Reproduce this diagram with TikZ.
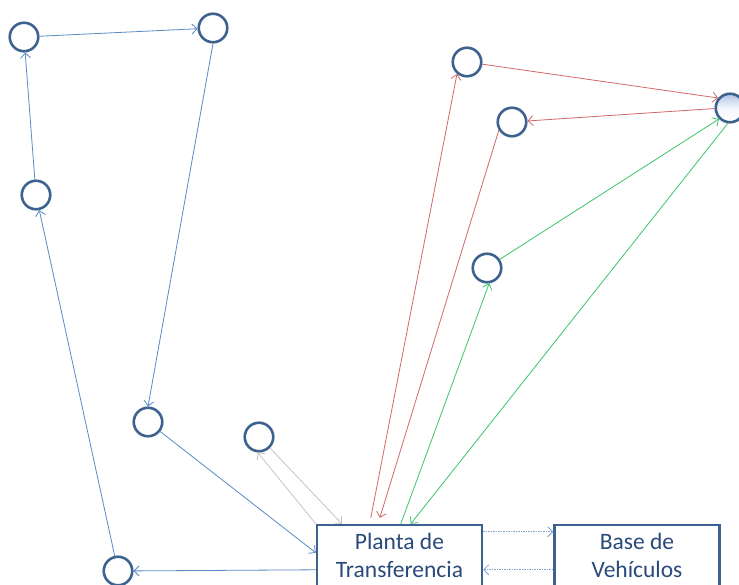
\documentclass[tikz,border=0pt]{standalone}
\usepackage{fontspec}
\setmainfont{Carlito}
\usetikzlibrary{arrows.meta,calc}
\definecolor{nodeblue}{HTML}{3E6290}
\definecolor{lineblue}{HTML}{5A8AC6}
\definecolor{dotblue}{HTML}{7FA3D6}
\definecolor{linered}{HTML}{D06868}
\definecolor{linegreen}{HTML}{3CC46A}
\definecolor{linegray}{HTML}{C4C4C4}
\definecolor{txtblue}{HTML}{2A4A7A}
\definecolor{shadeblue}{HTML}{AFC3E6}
\begin{document}
\begin{tikzpicture}[x=1pt,y=-1pt,
  vtx/.style={circle,draw=nodeblue,line width=2.6pt,minimum size=28.5pt,inner sep=0pt},
  bigvtx/.style={vtx,top color=shadeblue,bottom color=white,middle color=white!85!shadeblue},
  boxnode/.style={rectangle,draw=nodeblue,line width=2.4pt,minimum width=165pt,minimum height=70pt,inner sep=0pt},
  txt/.style={font=\fontsize{23.5}{28}\selectfont,text=txtblue,inner sep=0pt,anchor=base},
  arr/.style={line width=0.8pt,-{Straight Barb[length=5pt,width=10pt]}},
  barr/.style={arr,draw=lineblue},
  rarr/.style={arr,draw=linered},
  garr/.style={arr,draw=linegreen},
  grarr/.style={arr,draw=linegray},
  darr/.style={arr,draw=dotblue,dash pattern=on 1.5pt off 1pt}
]
\useasboundingbox (0,0) rectangle (739,585);
\fill[white] (0,0) rectangle (739,585);

% vertices
\node[vtx] (c1) at (24,37) {};
\node[vtx] (c2) at (213,28) {};
\node[vtx] (c3) at (36,195) {};
\node[vtx] (c4) at (148,422) {};
\node[vtx] (c5) at (259,437) {};
\node[vtx] (c6) at (118,571) {};
\node[vtx] (r1) at (467,62) {};
\node[vtx] (r2) at (512,122) {};
\node[vtx] (g1) at (487,268) {};
\node[bigvtx] (big) at (730,108) {};

% boxes
\node[boxnode] (pt) at (399.5,560) {};
\node[boxnode] (bv) at (637,560) {};
\node[txt] (pt1) at (399.5,549) {Planta de};
\node[txt] (pt2) at (399.5,577) {Transferencia};
\node[txt] (bv1) at (637,549) {Base de};
\node[txt] (bv2) at (637,577) {Vehículos};

% blue route
\draw[barr] (c1) -- (c2);
\draw[barr] (c2.south) -- (c4.north);
\coordinate (ptw1) at ($(pt.north west)+(0,29)$);
\coordinate (ptw2) at ($(pt.north west)+(0,46)$);
\draw[barr] (c4) -- (ptw1);
\draw[barr] (ptw2) -- (c6);
\draw[barr] (c6) -- (c3);
\draw[barr] (c3) -- (c1);

% gray
\coordinate (gy2) at ($(pt.north west)+(26,0)$);
\draw[grarr] (pt.north west) -- (c5.265);
\draw[grarr] (c5.315) -- (gy2);

% red
\coordinate (rd1) at ($(pt.north west)+(55,-6)$);
\coordinate (rd2) at ($(pt.north west)+(64,-6)$);
\draw[rarr] (rd1) -- (r1.230);
\draw[rarr] (r1) -- (big.140);
\draw[rarr] (big.182) -- (r2);
\draw[rarr] (r2.212) -- (rd2);

% green
\coordinate (gn1) at ($(pt.north west)+(85,0)$);
\coordinate (gn2) at ($(pt.north west)+(95,0)$);
\draw[garr] (gn1) -- (g1.278);
\draw[garr] (g1.34) -- (big.225);
\draw[garr] (big.262) -- (gn2);

% dotted between boxes
\coordinate (pe1) at ($(pt.north east)+(0,8)$);
\coordinate (pe2) at ($(pt.north east)+(0,46)$);
\coordinate (be1) at ($(bv.north west)+(0,8)$);
\coordinate (be2) at ($(bv.north west)+(0,46)$);
\draw[darr] (pe1) -- (be1);
\draw[darr] (be2) -- (pe2);
\end{tikzpicture}
\end{document}
